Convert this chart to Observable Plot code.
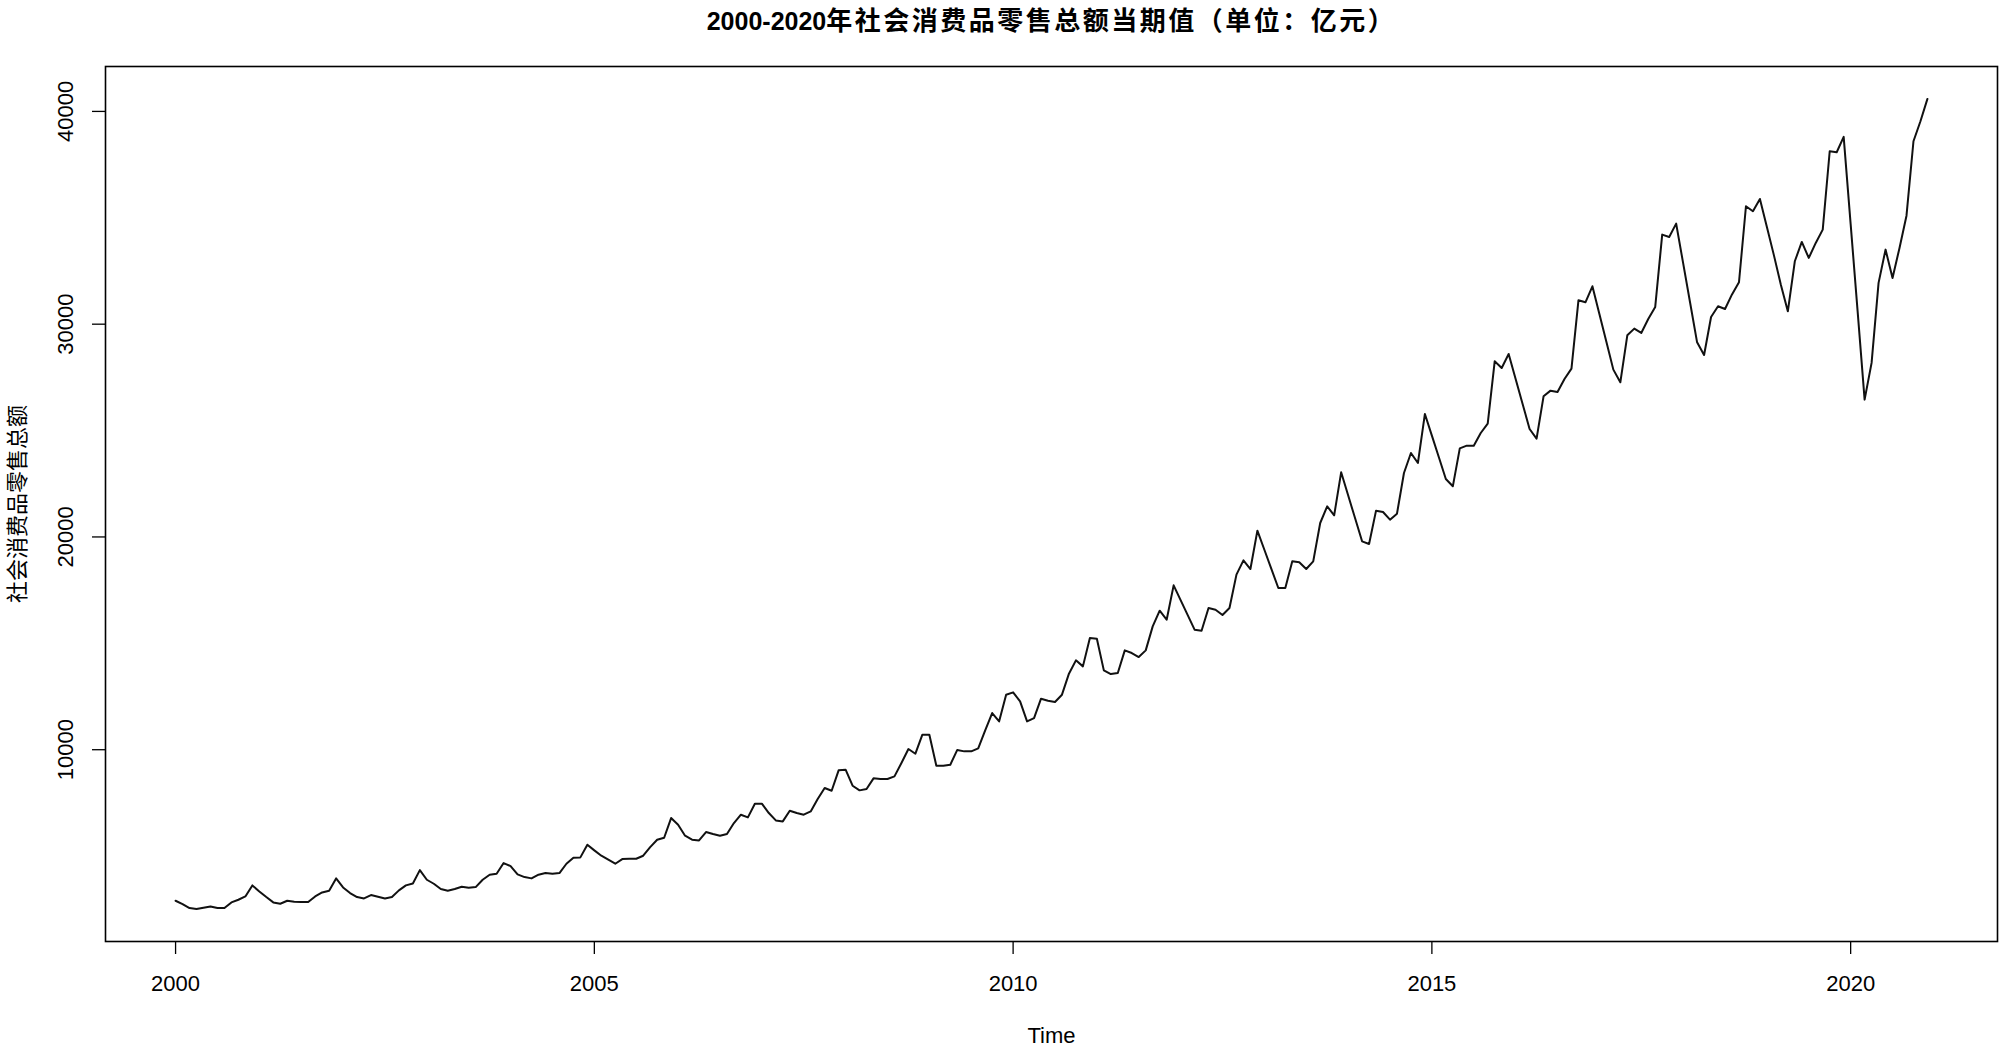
<!DOCTYPE html>
<html>
<head>
<meta charset="utf-8">
<script src="https://cdn.jsdelivr.net/npm/d3@7"></script>
<script src="https://cdn.jsdelivr.net/npm/@observablehq/plot@0.6"></script>
<style>
  html, body { margin: 0; padding: 0; background: #fff; }
  #chart svg { display: block; }
</style>
</head>
<body>
<div id="chart"></div>
<script>
// Monthly retail sales of consumer goods (亿元)
const startYear = 2000;
const sales2000 = [2901, 2745, 2556, 2509, 2572, 2635, 2556, 2556, 2823, 2948, 3105, 3622];
const sales2001 = [3340, 3074, 2823, 2760, 2901, 2854, 2839, 2839, 3105, 3293, 3371, 3951];
const sales2002 = [3528, 3262, 3074, 3011, 3168, 3089, 3011, 3074, 3390, 3622, 3715, 4340];
const sales2003 = [3888, 3700, 3450, 3371, 3450, 3559, 3512, 3544, 3888, 4124, 4171, 4672];
const sales2004 = [4531, 4140, 4014, 3952, 4124, 4202, 4171, 4202, 4641, 4923, 4939, 5534];
const sales2005 = [5268, 5017, 4829, 4641, 4860, 4876, 4876, 5017, 5424, 5769, 5863, 6788];
const sales2006 = [6470, 5957, 5769, 5738, 6130, 6035, 5957, 6035, 6553, 6945, 6819, 7462];
const sales2007 = [7462, 7023, 6678, 6631, 7133, 7023, 6945, 7101, 7681, 8198, 8073, 9029];
const sales2008 = [9060, 8308, 8089, 8151, 8653, 8622, 8622, 8747, 9373, 10032, 9812, 10706];
const sales2009 = [10706, 9248, 9248, 9295, 9990, 9922, 9922, 10062, 10909, 11724, 11332, 12586];
const sales2010 = [12695, 12272, 11332, 11488, 12397, 12303, 12240, 12586, 13573, 14200, 13917, 15249];
const sales2011 = [15218, 13729, 13557, 13604, 14670, 14544, 14356, 14670, 15798, 16534, 16111, 17725];
const sales2012 = [17030, 16335, 15641, 15594, 16660, 16581, 16330, 16660, 18227, 18901, 18493, 20296];
const sales2013 = [19398, 18499, 17600, 17600, 18854, 18807, 18493, 18854, 20656, 21440, 21016, 23038];
const sales2014 = [21957, 20875, 19794, 19669, 21236, 21173, 20812, 21095, 23006, 23947, 23477, 25780];
const sales2015 = [24761, 23743, 22724, 22380, 24160, 24291, 24291, 24886, 25325, 28255, 27942, 28600];
const sales2016 = [27425, 26250, 25074, 24620, 26610, 26876, 26814, 27425, 27910, 31123, 31029, 31781];
const sales2017 = [30475, 29170, 27864, 27268, 29478, 29791, 29587, 30245, 30810, 34210, 34100, 34727];
const sales2018 = [32867, 31008, 29148, 28553, 30339, 30841, 30716, 31400, 31970, 35542, 35307, 35887];
const sales2019 = [34567, 33246, 31850, 30606, 32957, 33866, 33113, 33819, 34445, 38128, 38081, 38802];
const sales2020 = [34700, 30600, 26454, 28180, 31940, 33505, 32173, 33584, 35100, 38598, 39538, 40588];

const xTicks = [2000, 2005, 2010, 2015, 2020];
const yTicks = [10000, 20000, 30000, 40000];
const titleNum = "2000-2020";
const titleCJK = "年社会消费品零售总额当期值（单位：亿元）";
const xLabel = "Time";
const yLabel = "社会消费品零售总额";

const years = [sales2000, sales2001, sales2002, sales2003, sales2004, sales2005, sales2006,
  sales2007, sales2008, sales2009, sales2010, sales2011, sales2012, sales2013, sales2014,
  sales2015, sales2016, sales2017, sales2018, sales2019, sales2020];
const series = years.flatMap((arr, yi) => arr.map((v, mi) => ({t: startYear + yi + mi / 12, v})));

const tmin = d3.min(series, d => d.t), tmax = d3.max(series, d => d.t);
const vmin = d3.min(series, d => d.v), vmax = d3.max(series, d => d.v);
const tpad = (tmax - tmin) * 0.04, vpad = (vmax - vmin) * 0.04;

const font = "'Liberation Sans', Arial, 'Noto Sans CJK SC', sans-serif";

const chart = Plot.plot({
  width: 2000,
  height: 1047,
  marginLeft: 105,
  marginRight: 3,
  marginTop: 66,
  marginBottom: 106,
  style: {fontFamily: font, background: "#fff", color: "#000"},
  x: {domain: [tmin - tpad, tmax + tpad], label: null},
  y: {domain: [vmin - vpad, vmax + vpad], label: null},
  marks: [
    Plot.axisX({ticks: xTicks, tickSize: 13, tickPadding: 21, fontSize: 22, tickFormat: d => String(d), stroke: "#000", strokeWidth: 1.3, label: null}),
    Plot.axisY({ticks: yTicks, tickSize: 13, tickFormat: () => "", stroke: "#000", strokeWidth: 1.3, label: null}),
    Plot.text(yTicks, {y: d => d, frameAnchor: "left", dx: -40, rotate: -90, text: d => String(d), fontSize: 22, textAnchor: "middle", lineAnchor: "middle", fill: "#000"}),
    Plot.line(series, {x: "t", y: "v", stroke: "#111", strokeWidth: 2}),
    Plot.frame({stroke: "#000", strokeWidth: 1.6}),
    Plot.text([xLabel], {frameAnchor: "bottom", dy: 94, text: d => d, fontSize: 22, textAnchor: "middle", lineAnchor: "middle", fill: "#000"}),
    Plot.text([yLabel], {frameAnchor: "left", dx: -88, rotate: -90, text: d => d, fontSize: 22, fontFamily: "'Noto Sans CJK SC', sans-serif", textAnchor: "middle", lineAnchor: "middle", fill: "#000"}),
    Plot.text([titleNum + titleCJK], {frameAnchor: "top", dy: -45, text: d => d, fontSize: 26, fontWeight: "bold", textAnchor: "middle", lineAnchor: "middle", fill: "#000"})
  ]
});

document.getElementById("chart").appendChild(chart);

// Split the title into a bold Latin part and a CJK part
d3.select(chart).selectAll("text").each(function() {
  if (this.textContent === titleNum + titleCJK) {
    const el = d3.select(this);
    el.text(null);
    el.append("tspan").attr("font-family", "'Liberation Sans', Arial, sans-serif").attr("font-size", 25).attr("font-weight", "bold").text(titleNum);
    el.append("tspan").attr("font-family", "'Noto Sans CJK SC', sans-serif").attr("font-size", 26).attr("font-weight", "bold").attr("letter-spacing", 2.5).text(titleCJK);
  }
});
</script>
</body>
</html>
